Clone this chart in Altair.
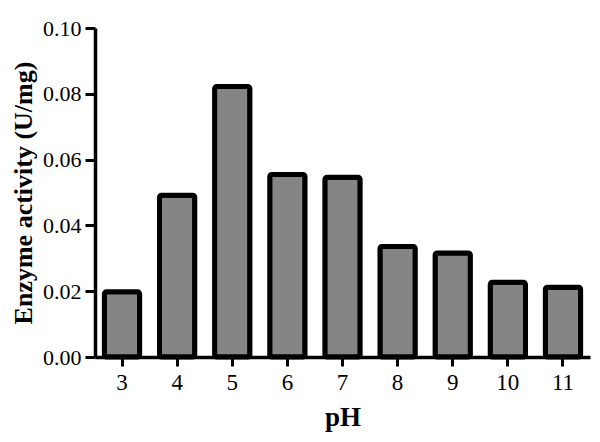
import altair as alt
import pandas as pd

ph_values = ["3", "4", "5", "6", "7", "8", "9", "10", "11"]
activity = [0.0198, 0.0492, 0.0822, 0.0555, 0.0546, 0.0336, 0.0316, 0.0227, 0.0212]
y_ticks = [0.0, 0.02, 0.04, 0.06, 0.08, 0.10]

df = pd.DataFrame({"pH": ph_values, "activity": activity})

FONT = "Liberation Serif"

chart = alt.Chart(df).mark_bar(
    fill="#858585",
    stroke="black",
    strokeWidth=5,
    strokeJoin="round",
    cornerRadius=2,
).encode(
    x=alt.X(
        "pH:O",
        sort=ph_values,
        scale=alt.Scale(paddingInner=0.36, paddingOuter=0.17),
        axis=alt.Axis(
            title="pH",
            labelAngle=0,
            labelFont=FONT,
            labelFontSize=23,
            labelColor="black",
            labelPadding=5,
            titleFont=FONT,
            titleFontSize=27,
            titleFontWeight="bold",
            titleColor="black",
            titlePadding=10,
            domainColor="black",
            domainWidth=3.5,
            tickColor="black",
            tickWidth=3,
            tickSize=9,
            grid=False,
        ),
    ),
    y=alt.Y(
        "activity:Q",
        scale=alt.Scale(domain=[0, 0.1], nice=False),
        axis=alt.Axis(
            title="Enzyme activity (U/mg)",
            values=y_ticks,
            format=".2f",
            labelFont=FONT,
            labelFontSize=22,
            labelColor="black",
            labelPadding=4,
            titleFont=FONT,
            titleFontSize=26,
            titleFontWeight="bold",
            titleColor="black",
            titlePadding=6,
            domainColor="black",
            domainWidth=3.5,
            tickColor="black",
            tickWidth=3,
            tickSize=10,
            grid=False,
        ),
    ),
).properties(
    width=495,
    height=329,
    autosize=alt.AutoSizeParams(type="none"),
    padding={"left": 87, "top": 20, "right": 2, "bottom": 77},
).configure_view(stroke=None)

chart.save("out.html", embed_options={"renderer": "svg", "actions": False})
